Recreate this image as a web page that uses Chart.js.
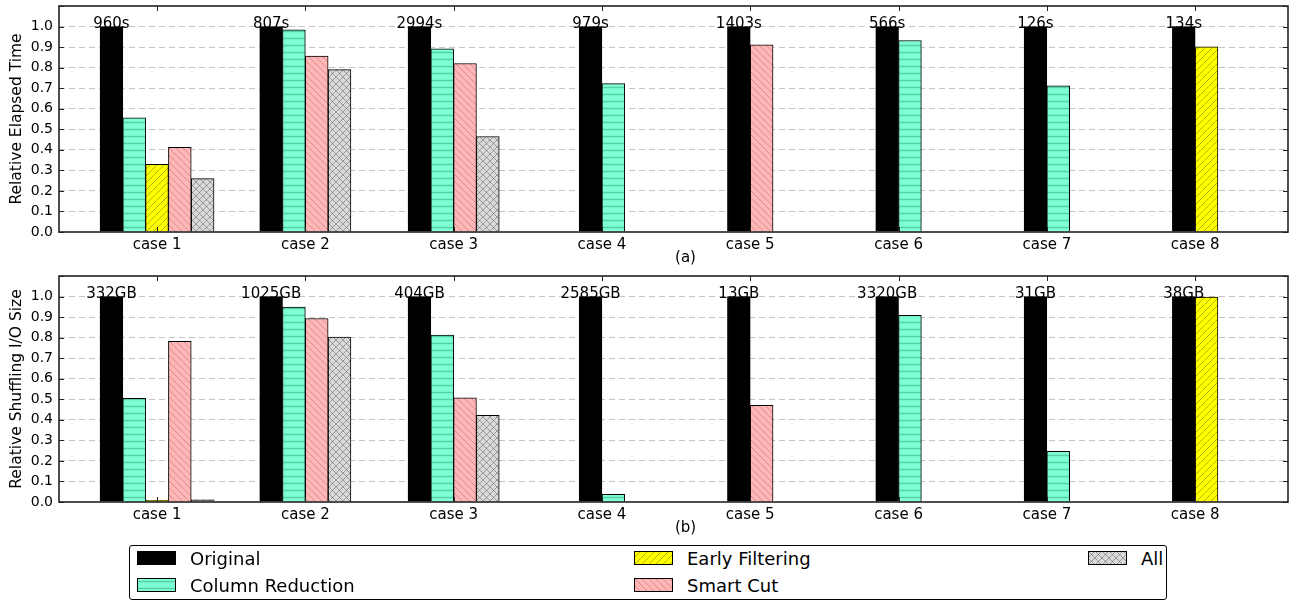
<!DOCTYPE html>
<html>
<head>
<meta charset="utf-8">
<script src="https://cdn.jsdelivr.net/npm/chart.js@4.4.0/dist/chart.umd.min.js"></script>
<style>
    body { margin: 0; background: #fff; font-family: 'DejaVu Sans', sans-serif; }
    #wrap { position: relative; width: 1299px; height: 602px; overflow: hidden; }
    .panel { position: absolute; left: 0; width: 1299px; height: 270px; }
    #legend {
        position: absolute; left: 129px; top: 545px; width: 1038px; height: 55px;
        border: 1px solid #000; border-radius: 3px; box-sizing: border-box;
    }
    .entry { position: absolute; height: 14px; display: flex; align-items: center; font-size: 18px; white-space: nowrap; color: #000; }
    .entry canvas { margin-right: 14px; }
</style>
</head>
<body>
<div id="wrap">
    <div class="panel" style="top:0"><canvas id="timeChart"></canvas></div>
    <div class="panel" style="top:270px"><canvas id="ioChart"></canvas></div>
    <div id="legend"></div>
</div>
<script>
const categories = ['case 1', 'case 2', 'case 3', 'case 4', 'case 5', 'case 6', 'case 7', 'case 8'];
const seriesNames = ['Original', 'Column Reduction', 'Early Filtering', 'Smart Cut', 'All'];

// (a) relative elapsed time, null = not applicable
const timeOriginal = [1, 1, 1, 1, 1, 1, 1, 1];
const timeColumn   = [0.556, 0.984, 0.891, 0.722, null, 0.932, 0.711, null];
const timeEarly    = [0.329, null, null, null, null, null, null, 0.901];
const timeSmart    = [0.412, 0.856, 0.820, null, 0.911, null, null, null];
const timeAll      = [0.260, 0.790, 0.465, null, null, null, null, null];
const timeBase     = ['960s', '807s', '2994s', '979s', '1403s', '566s', '126s', '134s'];

// (b) relative shuffling I/O size
const ioOriginal = [1, 1, 1, 1, 1, 1, 1, 1];
const ioColumn   = [0.504, 0.949, 0.813, 0.037, null, 0.909, 0.247, null];
const ioEarly    = [0.008, null, null, null, null, null, null, 0.998];
const ioSmart    = [0.782, 0.893, 0.507, null, 0.470, null, null, null];
const ioAll      = [0.010, 0.803, 0.422, null, null, null, null, null];
const ioBase     = ['332GB', '1025GB', '404GB', '2585GB', '13GB', '3320GB', '31GB', '38GB'];

const FONT = "'DejaVu Sans'";

// hatch tiles
function makeTile(bg, line, kind) {
    const s = 7;
    const c = document.createElement('canvas');
    c.width = s; c.height = s;
    const g = c.getContext('2d');
    g.fillStyle = bg;
    g.fillRect(0, 0, s, s);
    g.strokeStyle = line;
    g.lineWidth = 1;
    g.beginPath();
    if (kind === '-') {
        g.lineWidth = 1.5;
        g.moveTo(0, s / 2); g.lineTo(s, s / 2);
    }
    if (kind === '/' || kind === 'x') {
        g.moveTo(-1, s + 1); g.lineTo(s + 1, -1);
        g.moveTo(-2, 1); g.lineTo(1, -2);
        g.moveTo(s - 1, s + 2); g.lineTo(s + 2, s - 1);
    }
    if (kind === '\\' || kind === 'x') {
        g.moveTo(-1, -1); g.lineTo(s + 1, s + 1);
        g.moveTo(s - 1, -2); g.lineTo(s + 2, 1);
        g.moveTo(-2, s - 1); g.lineTo(1, s + 2);
    }
    g.stroke();
    return c;
}

const tiles = [
    null,
    makeTile('#7fffd4', 'rgba(40,150,115,0.45)', '-'),
    makeTile('#ffff00', 'rgba(120,120,0,0.55)', '/'),
    makeTile('#ffb6b6', 'rgba(170,90,90,0.45)', '\\'),
    makeTile('#d9d9d9', 'rgba(90,90,90,0.5)', 'x')
];

function fillFor(ctx, k) {
    return tiles[k] ? ctx.createPattern(tiles[k], 'repeat') : '#000';
}

// inward ticks + box frame, matplotlib style
const framePlugin = {
    id: 'frame',
    afterDraw(chart) {
        const {ctx, chartArea: a, scales: {x, y}} = chart;
        ctx.save();
        ctx.strokeStyle = '#222';
        ctx.lineWidth = 1;
        ctx.beginPath();
        x.ticks.forEach(t => {
            const px = Math.round(x.getPixelForValue(t.value)) + 0.5;
            ctx.moveTo(px, a.bottom); ctx.lineTo(px, a.bottom - 5);
            ctx.moveTo(px, a.top); ctx.lineTo(px, a.top + 5);
        });
        y.ticks.forEach(t => {
            const py = Math.round(y.getPixelForValue(t.value)) + 0.5;
            ctx.moveTo(a.left, py); ctx.lineTo(a.left + 5, py);
            ctx.moveTo(a.right, py); ctx.lineTo(a.right - 5, py);
        });
        ctx.stroke();
        ctx.lineWidth = 1.6;
        ctx.strokeRect(a.left, a.top, a.right - a.left, a.bottom - a.top);
        ctx.restore();
    }
};

// base values written above the Original bars, and panel tag
const baseLabelPlugin = {
    id: 'baseLabels',
    afterDatasetsDraw(chart, args, opts) {
        const {ctx, chartArea: a} = chart;
        const meta = chart.getDatasetMeta(0);
        ctx.save();
        ctx.fillStyle = '#000';
        ctx.font = '15px ' + FONT;
        ctx.textAlign = 'center';
        ctx.textBaseline = 'alphabetic';
        meta.data.forEach((bar, i) => ctx.fillText(opts.labels[i], bar.x, bar.y + 1));
        ctx.textBaseline = 'middle';
        ctx.fillText(opts.tag, (a.left + a.right) / 2 + 12, a.bottom + 26);
        ctx.restore();
    }
};

function buildChart(id, series, baseLabels, yTitle, tag) {
    const ctx = document.getElementById(id).getContext('2d');
    const datasets = series.map((vals, k) => ({
        label: seriesNames[k],
        data: vals.map((v, i) => ({x: i + 1, y: v})),
        backgroundColor: fillFor(ctx, k),
        borderColor: '#000',
        borderWidth: 1,
        barThickness: 22.8,
        skipNull: true
    }));
    return new Chart(ctx, {
        type: 'bar',
        data: {datasets},
        plugins: [framePlugin, baseLabelPlugin],
        options: {
            responsive: true,
            maintainAspectRatio: false,
            animation: false,
            layout: {padding: {top: 6, right: 11, left: 0, bottom: 0}},
            plugins: {
                legend: {display: false},
                tooltip: {enabled: false},
                baseLabels: {labels: baseLabels, tag: tag}
            },
            scales: {
                x: {
                    type: 'linear',
                    offset: false,
                    min: 0.339,
                    max: 8.626,
                    afterBuildTicks: s => { s.ticks = categories.map((c, i) => ({value: i + 1})); },
                    afterFit: s => { s.height = 38; s.paddingLeft = 0; s.paddingRight = 0; },
                    grid: {display: false},
                    border: {display: false},
                    ticks: {
                        color: '#000',
                        padding: -4,
                        autoSkip: false,
                        maxRotation: 0,
                        font: {family: FONT, size: 15},
                        callback: v => categories[v - 1]
                    }
                },
                y: {
                    min: 0,
                    max: 1.1,
                    afterFit: s => { s.width = 59; s.paddingTop = 0; s.paddingBottom = 0; },
                    grid: {
                        drawTicks: false,
                        color: c => (c.tick.value < 0.05 || c.tick.value > 1.05) ? 'rgba(0,0,0,0)' : '#c4c4c4',
                        lineWidth: 1
                    },
                    border: {display: false, dash: [6, 4]},
                    ticks: {
                        stepSize: 0.1,
                        autoSkip: false,
                        color: '#000',
                        padding: 6,
                        font: {family: FONT, size: 14},
                        callback: v => v > 1.05 ? '' : v.toFixed(1)
                    },
                    title: {
                        display: true,
                        text: yTitle,
                        color: '#000',
                        padding: {top: 8, bottom: 0},
                        font: {family: FONT, size: 15.5}
                    }
                }
            }
        }
    });
}

buildChart('timeChart', [timeOriginal, timeColumn, timeEarly, timeSmart, timeAll],
    timeBase, 'Relative Elapsed Time', '(a)');
buildChart('ioChart', [ioOriginal, ioColumn, ioEarly, ioSmart, ioAll],
    ioBase, 'Relative Shuffling I/O Size', '(b)');

// legend, column-major like the original figure
const legend = document.getElementById('legend');
const legendSpots = [[7, 5], [7, 32], [504, 5], [504, 32], [958, 5]];
seriesNames.forEach((name, k) => {
    const entry = document.createElement('div');
    entry.className = 'entry';
    entry.style.left = legendSpots[k][0] + 'px';
    entry.style.top = legendSpots[k][1] + 'px';
    const sw = document.createElement('canvas');
    sw.width = 39; sw.height = 14;
    const g = sw.getContext('2d');
    g.fillStyle = fillFor(g, k);
    g.fillRect(0, 0, 39, 14);
    g.strokeStyle = '#000';
    g.lineWidth = 1;
    g.strokeRect(0.5, 0.5, 38, 13);
    entry.appendChild(sw);
    const txt = document.createElement('span');
    txt.textContent = name;
    entry.appendChild(txt);
    legend.appendChild(entry);
});
</script>
</body>
</html>
